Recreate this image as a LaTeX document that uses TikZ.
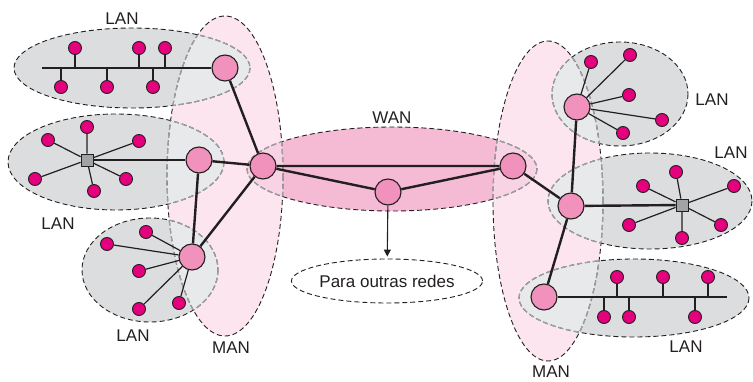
\documentclass[tikz,border=0pt]{standalone}
\usepackage{fontspec}
\setmainfont{Liberation Sans}
\usetikzlibrary{arrows.meta,shapes.geometric}
\definecolor{langray}{HTML}{DCDDDF}
\definecolor{lanlight}{HTML}{E8E9EA}
\definecolor{manpink}{HTML}{FCE5EF}
\definecolor{wanpink}{HTML}{F5BBD4}
\definecolor{wanlight}{HTML}{F8D3E3}
\definecolor{routerc}{HTML}{F192BD}
\definecolor{stationc}{HTML}{E5007E}
\definecolor{hubc}{HTML}{A1A3A6}
\definecolor{linec}{HTML}{231F20}
\definecolor{dashg}{HTML}{9D9FA2}
\begin{document}
\begin{tikzpicture}[x=1pt,y=-1pt,
  pManL/.style={insert path={(225,176) ellipse [x radius=58, y radius=160]}},
  pManR/.style={insert path={(548,201) ellipse [x radius=55, y radius=160]}},
  pWan/.style={insert path={(392,169) ellipse [x radius=145, y radius=42]}},
  pLanA/.style={insert path={(132,68) ellipse [x radius=118, y radius=40]}},
  pLanB/.style={insert path={(116,162) ellipse [x radius=108, y radius=48]}},
  pLanC/.style={insert path={(150,270) ellipse [x radius=68, y radius=52]}},
  pLanD/.style={insert path={(620,94) ellipse [x radius=68, y radius=52]}},
  pLanE/.style={insert path={(650,201) ellipse [x radius=102, y radius=48]}},
  pLanF/.style={insert path={(634,298) ellipse [x radius=115, y radius=39]}},
  outl/.style={draw=linec, line width=0.9pt, dash pattern=on 5pt off 3pt},
  outg/.style={draw=dashg, line width=1.3pt, dash pattern=on 5pt off 3pt},
  router/.style={circle, draw=linec, line width=1.1pt, fill=routerc, minimum size=26pt, inner sep=0pt},
  station/.style={circle, draw=linec, line width=0.9pt, fill=stationc, minimum size=13pt, inner sep=0pt},
  hub/.style={rectangle, draw=linec, line width=0.9pt, fill=hubc, minimum size=12pt, inner sep=0pt},
  link/.style={draw=linec, line width=2.4pt},
  spoke/.style={draw=linec, line width=1.2pt},
  lbl/.style={font=\fontsize{17}{19}\selectfont, text=linec, inner sep=0pt}
]
\useasboundingbox (0,0) rectangle (753,382);
% ---- fills
\fill[manpink, pManL];
\fill[manpink, pManR];
\fill[wanpink, pWan];
\fill[langray, pLanA];
\fill[langray, pLanB];
\fill[langray, pLanC];
\fill[langray, pLanD];
\fill[langray, pLanE];
\fill[langray, pLanF];
\begin{scope}
  \clip[pManL];
  \fill[lanlight, pLanA];
  \fill[lanlight, pLanB];
  \fill[lanlight, pLanC];
  \fill[wanlight, pWan];
\end{scope}
\begin{scope}
  \clip[pManR];
  \fill[lanlight, pLanD];
  \fill[lanlight, pLanE];
  \fill[lanlight, pLanF];
  \fill[wanlight, pWan];
\end{scope}
% ---- outlines
\path[outl, pManL];
\path[outl, pManR];
\path[outl, pWan];
\path[outl, pLanA];
\path[outl, pLanB];
\path[outl, pLanC];
\path[outl, pLanD];
\path[outl, pLanE];
\path[outl, pLanF];
\begin{scope}
  \clip[pManL];
  \path[outg, pLanA];
  \path[outg, pLanB];
  \path[outg, pLanC];
  \path[outg, pWan];
\end{scope}
\begin{scope}
  \clip[pManR];
  \path[outg, pLanD];
  \path[outg, pLanE];
  \path[outg, pLanF];
  \path[outg, pWan];
\end{scope}
\begin{scope}\clip[pLanA]; \path[outg, pManL];\end{scope}
\begin{scope}\clip[pLanB]; \path[outg, pManL];\end{scope}
\begin{scope}\clip[pLanC]; \path[outg, pManL];\end{scope}
\begin{scope}\clip[pWan]; \path[outg, pManL];\end{scope}
\begin{scope}\clip[pLanD]; \path[outg, pManR];\end{scope}
\begin{scope}\clip[pLanE]; \path[outg, pManR];\end{scope}
\begin{scope}\clip[pLanF]; \path[outg, pManR];\end{scope}
\begin{scope}\clip[pWan]; \path[outg, pManR];\end{scope}

% ---- labels
\node[lbl] (tA) at (122,19) {LAN};
\node[lbl] (tB) at (58,224) {LAN};
\node[lbl] (tC) at (133,336) {LAN};
\node[lbl] (tML) at (231,348) {MAN};
\node[lbl] (tW) at (392,118) {WAN};
\node[lbl] (tD) at (712,100) {LAN};
\node[lbl] (tE) at (731,153) {LAN};
\node[lbl] (tF) at (686,347) {LAN};
\node[lbl] (tMR) at (551,372) {MAN};
\node[ellipse, outl, minimum width=184pt, minimum height=44pt, inner sep=0pt,
      font=\fontsize{17}{19}\selectfont, text=linec] (para) at (387,281) {Para outras redes};

% ---- coordinates
\coordinate (busA) at (42,68);
\coordinate (busF) at (727,297);

% ---- routers
\node[router] (rL1) at (225,68) {};
\node[router] (rL2) at (199,160) {};
\node[router] (rL3) at (192,257) {};
\node[router] (w1) at (263,166) {};
\node[router] (w2) at (388,192) {};
\node[router] (w3) at (513,166) {};
\node[router] (rR1) at (577,107) {};
\node[router] (rR2) at (571,206) {};
\node[router] (rR3) at (544,297) {};
\node[hub] (hL) at (87,160) {};
\node[hub] (hR) at (682,205) {};

% ---- stations
\node[station] (a1) at (75,48) {};
\node[station] (a2) at (139,48) {};
\node[station] (a3) at (165,48) {};
\node[station] (a4) at (61,87) {};
\node[station] (a5) at (107,87) {};
\node[station] (a6) at (153,87) {};

\node[station] (b1) at (87,127) {};
\node[station] (b2) at (48,140) {};
\node[station] (b3) at (139,141) {};
\node[station] (b4) at (35,179) {};
\node[station] (b5) at (126,179) {};
\node[station] (b6) at (94,191) {};

\node[station] (c1) at (146,232) {};
\node[station] (c2) at (107,244) {};
\node[station] (c3) at (139,271) {};
\node[station] (c4) at (139,309) {};
\node[station] (c5) at (179,303) {};

\node[station] (d1) at (591,62) {};
\node[station] (d2) at (630,55) {};
\node[station] (d3) at (629,95) {};
\node[station] (d4) at (662,120) {};
\node[station] (d5) at (623,133) {};

\node[station] (e1) at (643,186) {};
\node[station] (e2) at (676,172) {};
\node[station] (e3) at (734,186) {};
\node[station] (e4) at (629,225) {};
\node[station] (e5) at (721,225) {};
\node[station] (e6) at (682,238) {};

\node[station] (f1) at (617,277) {};
\node[station] (f2) at (663,277) {};
\node[station] (f3) at (708,277) {};
\node[station] (f4) at (604,317) {};
\node[station] (f5) at (629,317) {};
\node[station] (f6) at (695,317) {};

% ---- connectors
\path[spoke] (a1) -- (a1 |- busA) (a2) -- (a2 |- busA) (a3) -- (a3 |- busA)
             (a4) -- (a4 |- busA) (a5) -- (a5 |- busA) (a6) -- (a6 |- busA);
\path[link] (busA) -- (rL1);
\path[spoke] (hL) -- (b1) (hL) -- (b2) (hL) -- (b3) (hL) -- (b4) (hL) -- (b5) (hL) -- (b6);
\path[link] (hL) -- (rL2);
\path[spoke] (rL3) -- (c1) (rL3) -- (c2) (rL3) -- (c3) (rL3) -- (c4) (rL3) -- (c5);
\path[spoke] (rR1) -- (d1) (rR1) -- (d2) (rR1) -- (d3) (rR1) -- (d4) (rR1) -- (d5);
\path[spoke] (hR) -- (e1) (hR) -- (e2) (hR) -- (e3) (hR) -- (e4) (hR) -- (e5) (hR) -- (e6);
\path[link] (hR) -- (rR2);
\path[spoke] (f1) -- (f1 |- busF) (f2) -- (f2 |- busF) (f3) -- (f3 |- busF)
             (f4) -- (f4 |- busF) (f5) -- (f5 |- busF) (f6) -- (f6 |- busF);
\path[link] (rR3) -- (busF);
\path[link] (rL1) -- (w1) (rL2) -- (w1) (rL3) -- (w1) (rL2) -- (rL3)
            (w1) -- (w3) (w1) -- (w2) (w2) -- (w3)
            (w3) -- (rR2) (rR1) -- (rR2) (rR2) -- (rR3);
\draw[linec, line width=1.1pt, -{Triangle[length=7pt,width=7pt]}, shorten >=2pt] (w2) -- (para);
\end{tikzpicture}
\end{document}
